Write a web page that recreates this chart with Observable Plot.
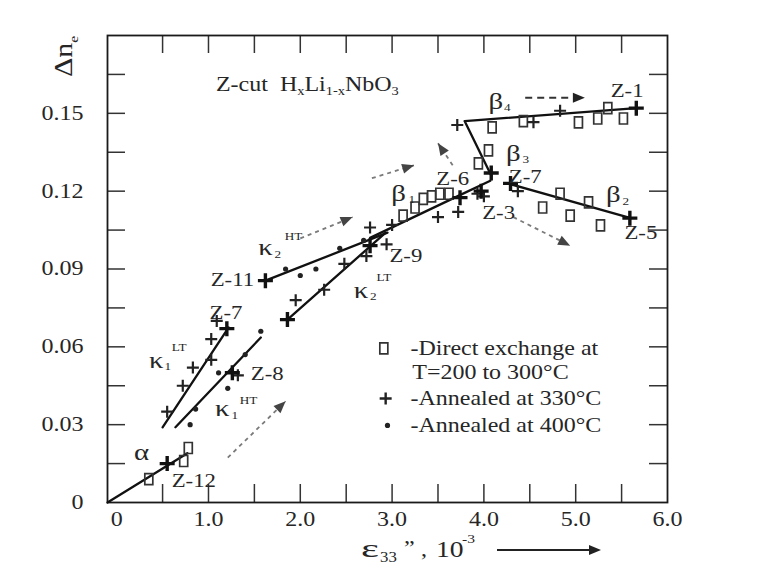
<!DOCTYPE html>
<html><head><meta charset="utf-8">
<script src="https://cdn.jsdelivr.net/npm/d3@7"></script>
<script src="https://cdn.jsdelivr.net/npm/@observablehq/plot@0.6"></script>
<style>
body{margin:0;background:#fff;}
#chart{width:770px;height:578px;}
</style>
</head><body><div id="chart"></div>
<script>
// ---------- data ----------
const xTickLabels = [0, 1, 2, 3, 4, 5, 6];
const yTickLabels = [0, 0.03, 0.06, 0.09, 0.12, 0.15];
const xMinorTicks = [0.5, 1, 1.5, 2, 2.5, 3, 3.5, 4, 4.5, 5, 5.5];
const yMinorTicks = [0.015, 0.03, 0.045, 0.06, 0.075, 0.09, 0.105, 0.12, 0.135, 0.15, 0.165];

// squares: direct exchange at T = 200 to 300 C
const directExchange = [[0.35,0.009],[0.73,0.016],[0.78,0.021],
  [3.12,0.1106],[3.25,0.1137],[3.34,0.117],[3.43,0.118],[3.52,0.119],[3.62,0.119],
  [3.94,0.1307],[4.05,0.1357],
  [4.09,0.1446],[4.43,0.147],[5.03,0.1465],[5.24,0.148],[5.35,0.152],[5.52,0.148],
  [4.64,0.1137],[4.83,0.119],[4.94,0.1106],[5.14,0.1157],[5.27,0.1068]];
// pluses: annealed at 330 C
const annealed330 = [[0.55,0.035],[0.72,0.045],[0.83,0.052],[1.03,0.055],[1.03,0.063],[1.09,0.070],
  [1.32,0.049],[1.95,0.078],[2.26,0.082],[2.48,0.092],[2.72,0.095],[2.76,0.106],[2.94,0.0995],[3.0,0.107],
  [3.5,0.110],[3.72,0.112],[3.93,0.119],[4.0,0.118],[4.37,0.120],[3.71,0.1455],[4.54,0.1466],[4.83,0.151]];
// bold pluses at the ends of the fitted lines (samples Z-n)
const samplePoints = [[0.55,0.015],[1.2,0.067],[1.26,0.050],[1.62,0.0855],[1.86,0.0705],[2.76,0.099],
  [3.74,0.1175],[3.97,0.120],[4.08,0.127],[4.29,0.123],[5.59,0.1096],[5.66,0.152]];
// dots: annealed at 400 C
const annealed400 = [[0.80,0.030],[0.86,0.036],[1.11,0.050],[1.21,0.044],[1.40,0.057],[1.57,0.066],
  [1.84,0.090],[2.0,0.0875],[2.17,0.090],[2.43,0.098],[2.69,0.101]];

// fitted lines
const fitAlpha = [[-0.1,0],[0.77,0.019]];
const fitK1LT  = [[0.5,0.029],[1.22,0.0675]];
const fitK1HT  = [[0.64,0.029],[1.57,0.0636]];
const fitK2HT  = [[1.62,0.0855],[2.95,0.104]];
const fitK2LT  = [[1.86,0.0705],[2.93,0.104]];
const fitB1    = [[2.76,0.102],[3.71,0.118],[4.07,0.124]];
const fitB3B4  = [[5.66,0.152],[3.79,0.147],[4.08,0.126]];
const fitB2    = [[4.26,0.123],[5.6,0.1096]];

// dashed arrows [x1, y1, x2, y2]
const arrowsGray = [[1.21,0.0173,1.84,0.039],[2.0,0.1018,2.57,0.110],[2.78,0.125,3.24,0.130],
  [3.66,0.130,3.5,0.1385],[4.32,0.110,4.94,0.099]];
const arrowB4 = [[4.45,0.156,5.1,0.156]];

// annotation labels (Z-n sample names)
const labelText = ["Z-1","Z-7","Z-6","Z-3","Z-5","Z-11","Z-9","Z-7","Z-8","Z-12"];
const labelX    = [5.56,4.45,3.66,4.16,5.71,1.26,3.15,1.19,1.64,0.84];
const labelY    = [0.1588,0.1255,0.1249,0.1118,0.1041,0.0856,0.0952,0.0729,0.0497,0.0085];
// greek segment names
const greekText = ["β","β","β","β","κ","κ","κ","κ","α"];
const greekX    = [4.13,4.32,3.07,5.41,1.62,2.66,0.43,1.15,0.27];
const greekY    = [0.1545,0.1345,0.119,0.1188,0.0983,0.0817,0.0547,0.0362,0.0193];
const smallText = ["4","3","1","2","2","HT","2","LT","1","LT","1","HT"];
const smallX    = [4.22,4.42,3.18,5.51,1.72,1.83,2.76,2.83,0.52,0.6,1.25,1.34];
const smallY    = [0.1522,0.1322,0.1167,0.1162,0.0956,0.1027,0.0794,0.0866,0.0524,0.0596,0.0335,0.0395];

const legendText = ["-Direct exchange at","T=200 to 300°C","-Annealed at 330°C","-Annealed at 400°C"];
const legendX = [3.2, 3.22, 3.2, 3.2];
const legendY = [0.0594, 0.0501, 0.0401, 0.0297];
const legendSymX = [2.91, 2.93, 2.95];
const legendSymY = [0.0594, 0.0401, 0.0297];

// ---------- build ----------
const W = 770, H = 578, ML = 107, MR = 103, MT = 35, MB = 76;
const innerW = W - ML - MR, innerH = H - MT - MB, TICK = 18;
const ink = "#262626";

const toRows = (pairs, extra = {}) => pairs.map(([x, y]) => ({x, y, ...extra}));
const fits = [
  ...toRows(fitAlpha, {f:"a"}), ...toRows(fitK1LT, {f:"k1lt"}), ...toRows(fitK1HT, {f:"k1ht"}),
  ...toRows(fitK2HT, {f:"k2ht"}), ...toRows(fitK2LT, {f:"k2lt"}), ...toRows(fitB1, {f:"b1"}),
  ...toRows(fitB3B4, {f:"b34"}), ...toRows(fitB2, {f:"b2"})
];
const arrowRows = arrowsGray.map(([x1,y1,x2,y2]) => ({x1,y1,x2,y2}));
const arrowB4Rows = arrowB4.map(([x1,y1,x2,y2]) => ({x1,y1,x2,y2}));
const labels = labelText.map((t,i) => ({t, x: labelX[i], y: labelY[i]}));
const greeks = greekText.map((t,i) => ({t, x: greekX[i], y: greekY[i]}));
const smalls = smallText.map((t,i) => ({t, x: smallX[i], y: smallY[i]}));
const legend = legendText.map((t,i) => ({t, x: legendX[i], y: legendY[i]}));
const legSym = legendSymX.map((x,i) => ({x, y: legendSymY[i], k: i}));

const rectSym = {draw(c){ c.moveTo(-4,-5.5); c.lineTo(4,-5.5); c.lineTo(4,5.5); c.lineTo(-4,5.5); c.closePath(); }};
const plusSym = {draw(c){ const s = 6; c.moveTo(-s,0); c.lineTo(s,0); c.moveTo(0,-s); c.lineTo(0,s); }};
const starSym = {draw(c){ const s = 7.5; c.moveTo(-s,0); c.lineTo(s,0); c.moveTo(0,-s); c.lineTo(0,s); }};
const headSym = {draw(c){ c.moveTo(0,0); c.lineTo(-5,12); c.lineTo(5,12); c.closePath(); }};

const base = {
  width: W, height: H, marginLeft: ML, marginRight: MR, marginTop: MT, marginBottom: MB,
  style: {fontFamily: "'Liberation Serif', 'Times New Roman', serif", fontSize: "20px", color: ink, background: "#fff", overflow: "visible"},
  x: {domain: [-0.1, 6], ticks: xTickLabels, tickFormat: d => d === 0 ? "0" : d.toFixed(1), tickSize: 0, tickPadding: 9, label: null},
  y: {domain: [0, 0.18], ticks: yTickLabels, tickFormat: d => d === 0 ? "0" : d.toFixed(2), tickSize: 0, tickPadding: 24, label: null}
};

// probe pass: obtain the scales to orient arrowheads
const probe = Plot.plot({...base, marks: [Plot.frame()]});
const sx = probe.scale("x"), sy = probe.scale("y");
const angle = r => Math.atan2(sy.apply(r.y2) - sy.apply(r.y1), sx.apply(r.x2) - sx.apply(r.x1)) * 180 / Math.PI + 90;

const plot = Plot.plot({
  ...base,
  marks: [
    Plot.tickX(xMinorTicks, {x: d => d, insetTop: innerH - TICK, stroke: "#333", strokeWidth: 1.5}),
    Plot.tickX(xMinorTicks, {x: d => d, insetBottom: innerH - TICK, stroke: "#333", strokeWidth: 1.5}),
    Plot.tickY(yMinorTicks, {y: d => d, insetRight: innerW - TICK, stroke: "#333", strokeWidth: 1.5}),
    Plot.tickY(yMinorTicks, {y: d => d, insetLeft: innerW - TICK, stroke: "#333", strokeWidth: 1.5}),
    Plot.frame({stroke: "#1a1a1a", strokeWidth: 1.8}),
    // dashed arrows
    Plot.link(arrowRows, {x1: "x1", y1: "y1", x2: "x2", y2: "y2", stroke: "#7a7a7a", strokeWidth: 1.8, strokeDasharray: "4,4"}),
    Plot.dot(arrowRows, {x: "x2", y: "y2", symbol: headSym, rotate: angle, fill: "#444", stroke: "none"}),
    Plot.link(arrowB4Rows, {x1: "x1", y1: "y1", x2: "x2", y2: "y2", stroke: "#333", strokeWidth: 1.8, strokeDasharray: "7,5"}),
    Plot.dot(arrowB4Rows, {x: "x2", y: "y2", symbol: headSym, rotate: angle, fill: "#222", stroke: "none"}),
    // fitted lines
    Plot.line(fits, {x: "x", y: "y", z: "f", stroke: "#111", strokeWidth: 2.3}),
    // data
    Plot.dot(toRows(directExchange), {x: "x", y: "y", symbol: rectSym, stroke: "#333", fill: "none", strokeWidth: 1.7}),
    Plot.dot(toRows(annealed330), {x: "x", y: "y", symbol: plusSym, stroke: "#222", strokeWidth: 2.2}),
    Plot.dot(toRows(samplePoints), {x: "x", y: "y", symbol: starSym, stroke: "#111", strokeWidth: 3.4}),
    Plot.dot(toRows(annealed400), {x: "x", y: "y", r: 2.6, fill: "#222", stroke: "none"}),
    // annotations
    Plot.text(labels, {x: "x", y: "y", text: "t", fontSize: 19, fill: ink, lineAnchor: "middle"}),
    Plot.text(greeks, {x: "x", y: "y", text: "t", fontSize: 24, fill: ink, lineAnchor: "middle"}),
    Plot.text(smalls, {x: "x", y: "y", text: "t", fontSize: 11, fill: ink, textAnchor: "start", lineAnchor: "middle"}),
    // legend
    Plot.dot(legSym.filter(d => d.k === 0), {x: "x", y: "y", symbol: rectSym, stroke: "#333", fill: "none", strokeWidth: 1.7}),
    Plot.dot(legSym.filter(d => d.k === 1), {x: "x", y: "y", symbol: plusSym, stroke: "#222", strokeWidth: 2.4}),
    Plot.dot(legSym.filter(d => d.k === 2), {x: "x", y: "y", r: 2.6, fill: "#222", stroke: "none"}),
    Plot.text(legend, {x: "x", y: "y", text: "t", fontSize: 20, fill: ink, textAnchor: "start", lineAnchor: "middle"})
  ]
});

// stretch the type horizontally like the scanned original
plot.querySelectorAll("text").forEach(t => {
  const tr = t.getAttribute("transform");
  if (tr && tr.startsWith("translate")) t.setAttribute("transform", tr + " scale(1.2,1)");
});

const svg = d3.select(plot);
const xs = plot.scale("x"), ys = plot.scale("y");

// in-plot title: Z-cut HxLi1-xNbO3
const title = svg.append("text")
  .attr("transform", `translate(${xs.apply(1.087)},${ys.apply(0.1584)}) scale(1.2,1)`)
  .attr("text-anchor", "start")
  .attr("fill", ink).attr("font-size", 20).style("white-space", "pre");
title.append("tspan").text("Z-cut  H");
title.append("tspan").attr("font-size", 12).attr("dy", 4).text("x");
title.append("tspan").attr("dy", -4).text("Li");
title.append("tspan").attr("font-size", 12).attr("dy", 4).text("1-x");
title.append("tspan").attr("dy", -4).text("NbO");
title.append("tspan").attr("font-size", 12).attr("dy", 4).text("3");

// y axis title: Δn_e (rotated)
const yt = svg.append("text")
  .attr("transform", `translate(${ML - 35},${MT + 42}) rotate(-90) scale(1.2,1)`)
  .attr("text-anchor", "start")
  .attr("fill", ink).attr("font-size", 25);
yt.append("tspan").text("Δn");
yt.append("tspan").attr("font-size", 13).attr("dy", 6).text("e");

// x axis title: ε33", 10^-3 ⟶
const bx = ML, by = H - MB;
const piece = (x, dy, size, txt, sc = 1.2) => svg.append("text")
  .attr("transform", `translate(${x},${by + dy}) scale(${sc},1)`)
  .attr("text-anchor", "start")
  .attr("fill", ink).attr("font-size", size).text(txt);
piece(bx + 254, 55, 25, "ε", 1.7);
piece(bx + 273, 60, 14, "33");
piece(bx + 297, 53, 20, "\u201D");
piece(bx + 314, 54, 20, ",");
piece(bx + 329, 55, 23, "10");
piece(bx + 355, 41, 13, "-3");
svg.append("line").attr("x1", bx + 390).attr("x2", bx + 484).attr("y1", by + 48).attr("y2", by + 48)
  .attr("stroke", "#222").attr("stroke-width", 2);
svg.append("path").attr("d", `M${bx + 494},${by + 48}L${bx + 482},${by + 43}L${bx + 482},${by + 53}Z`).attr("fill", "#222");

document.getElementById("chart").appendChild(plot);
</script>
</body></html>
